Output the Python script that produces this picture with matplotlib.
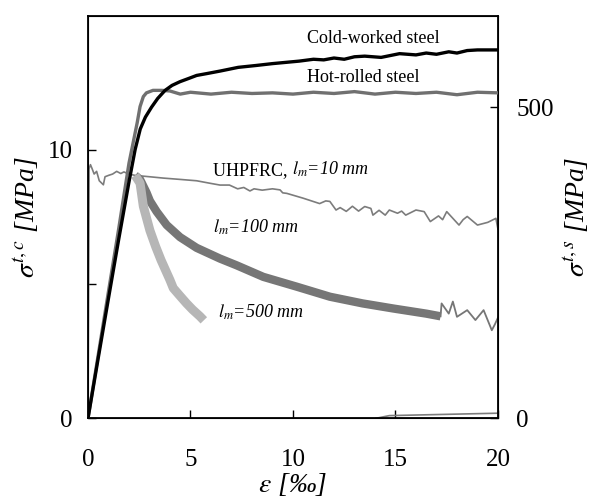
import matplotlib
matplotlib.use('Agg')
import matplotlib.pyplot as plt
from matplotlib.ticker import FixedLocator, FixedFormatter

plt.rcParams['font.family'] = ['Liberation Serif', 'DejaVu Serif']
plt.rcParams['mathtext.fontset'] = 'stix'

# strain in permille, stress in MPa

# steel, right axis
eps_cw = [0, 0.5, 1.0, 1.5, 2.0, 2.3, 2.55, 2.8, 3.1, 3.4, 3.76, 4.1, 4.49, 4.9, 5.3, 5.8,
          6.44, 7.33, 8.2, 9.0, 10.3, 11.0, 11.5, 12.0, 12.5, 13.0, 13.5, 14.3, 15.2, 16.0,
          16.5, 17.0, 17.6, 18.0, 18.5, 19.0, 20.0]
sig_cw = [0, 97, 193, 288, 380, 432, 465, 484, 500, 514, 527, 535, 541, 546, 551, 554,
          558, 564, 567, 570, 574, 577, 576, 579, 577, 581, 582, 580, 586, 584,
          587, 585, 589, 587, 591, 592, 592]

eps_hr = [0, 0.5, 1.0, 1.5, 2.0, 2.4, 2.54, 2.7, 2.85, 3.17, 3.6, 4.0, 4.5, 5, 6, 7, 8, 9, 10,
          11, 12, 13, 14, 15, 16, 17, 18, 19, 20]
sig_hr = [0, 102, 204, 305, 410, 475, 501, 517, 523, 527, 527, 526, 521, 524, 521, 524, 522,
          523, 521, 524, 522, 525, 521, 524, 522, 524, 520, 524, 523]

# UHPFRC, left axis
eps_l10 = [0, 0.05, 0.12, 0.2, 0.3, 0.42, 0.55, 0.75, 0.83, 1.0, 1.2, 1.4, 1.6, 1.75, 2.0,
           2.3, 3.0, 3.67, 4.5, 5.3, 6.0, 6.44, 6.9, 7.3, 7.6, 7.9, 8.1, 8.5, 9.0, 9.37, 9.5,
           9.7, 10.5, 11.3, 11.6, 11.8, 12.1, 12.3, 12.6, 12.9, 13.2, 13.5, 13.8, 13.9, 14.2,
           14.5, 14.7, 15.1, 15.3, 15.5, 16.0, 16.4, 16.7, 17.1, 17.3, 17.5, 17.8, 18.1, 18.3,
           18.5, 19.0, 19.5, 19.9, 20.0]
sig_l10 = [0, 9.3, 9.45, 9.3, 9.1, 9.2, 8.85, 8.7, 9.0, 9.05, 9.1, 9.2, 9.12, 9.18, 9.1,
           9.05, 9.0, 8.95, 8.9, 8.85, 8.75, 8.69, 8.69, 8.55, 8.6, 8.47, 8.55, 8.5, 8.55, 8.51, 8.4,
           8.38, 8.2, 8.0, 8.1, 8.08, 7.76, 7.85, 7.71, 7.9, 7.72, 7.89, 7.82, 7.57, 7.75,
           7.57, 7.76, 7.64, 7.72, 7.57, 7.76, 7.7, 7.33, 7.54, 7.4, 7.7, 7.45, 7.2, 7.4,
           7.52, 7.2, 7.3, 7.45, 7.05]

eps_l100 = [2.3, 2.54, 2.86, 3.02, 3.35, 3.84, 4.49, 5.3, 6.44, 7.25, 8.55, 10.2, 11.8, 13.4,
            14.9, 16.5, 17.2]
sig_l100 = [9.05, 8.9, 8.4, 8.1, 7.7, 7.2, 6.75, 6.35, 5.95, 5.7, 5.27, 4.9, 4.53, 4.28,
            4.09, 3.9, 3.8]
eps_l100_tail = [17.2, 17.25, 17.6, 17.8, 18.0, 18.5, 18.9, 19.3, 19.7, 19.85, 20.0]
sig_l100_tail = [3.8, 4.28, 3.9, 4.35, 3.78, 4.03, 3.66, 4.03, 3.28, 3.5, 3.75]

eps_l500 = [2.3, 2.54, 2.7, 3.02, 3.3, 3.56, 4.0, 4.16, 4.5, 4.81, 5.1, 5.46, 5.65]
sig_l500 = [9.05, 8.76, 7.9, 7.0, 6.4, 5.9, 5.15, 4.85, 4.55, 4.28, 4.05, 3.8, 3.65]

eps_base = [14.05, 14.7, 20.0]
sig_base = [0.0, 0.1, 0.19]

fig = plt.figure(figsize=(5.97, 5.0), dpi=100)
ax = fig.add_axes([0.1474, 0.1634, 0.6867, 0.8052])

ax.plot(eps_l10, sig_l10, color='#7c7c7c', lw=1.2)
ax.plot(eps_l100, sig_l100, color='#767676', lw=6, solid_capstyle='butt')
ax.plot(eps_l100_tail, sig_l100_tail, color='#767676', lw=1.3)
ax.plot(eps_l500, sig_l500, color='#b6b6b6', lw=6.5, solid_capstyle='butt')
ax.plot(eps_base, sig_base, color='#7c7c7c', lw=1.2)

ax.set_xlim(0, 20)
ax.set_ylim(0, 15)
ax.xaxis.set_major_locator(FixedLocator([0, 5, 10, 15, 20]))
ax.yaxis.set_major_locator(FixedLocator([0, 5, 10]))
ax.yaxis.set_major_formatter(FixedFormatter(['0', '', '10']))
ax.tick_params(axis='both', direction='in', length=5.5, width=1, labelsize=18)
ax.tick_params(axis='x', pad=22)
ax.tick_params(axis='y', pad=11)
for s in ax.spines.values():
    s.set_linewidth(1.3)

ax2 = ax.twinx()
ax2.plot(eps_hr, sig_hr, color='#707070', lw=2.4)
ax2.plot(eps_cw, sig_cw, color='black', lw=2.4)
ax2.set_ylim(0, 647)
ax2.yaxis.set_major_locator(FixedLocator([0, 500]))
ax2.tick_params(axis='y', direction='in', length=5.5, width=1, labelsize=18, pad=13)

ax.set_xlabel(r'$\varepsilon$ [‰]', fontsize=20, style='italic', labelpad=0)
ax.set_ylabel(r'$\sigma^{t,c}$ [MPa]', fontsize=20, style='italic', labelpad=4)
ax2.set_ylabel(r'$\sigma^{t,s}$ [MPa]', fontsize=20, style='italic', labelpad=6)

fs = 13
ax.text(10.68, 14.14, 'Cold-worked steel', fontsize=fs, va='center')
ax.text(10.68, 12.68, 'Hot-rolled steel', fontsize=fs, va='center')
t1 = ax.text(6.1, 9.22, 'UHPFRC, ', fontsize=fs, va='center')
ax.annotate(r'$l_m$=10 mm', xy=(1, 0), xycoords=t1, va='bottom', fontsize=fs, style='italic')
ax.text(6.1, 7.1, r'$l_m$=100 mm', fontsize=fs, va='center', style='italic')
ax.text(6.34, 3.96, r'$l_m$=500 mm', fontsize=fs, va='center', style='italic')

fig.savefig('out.png', dpi=100)
